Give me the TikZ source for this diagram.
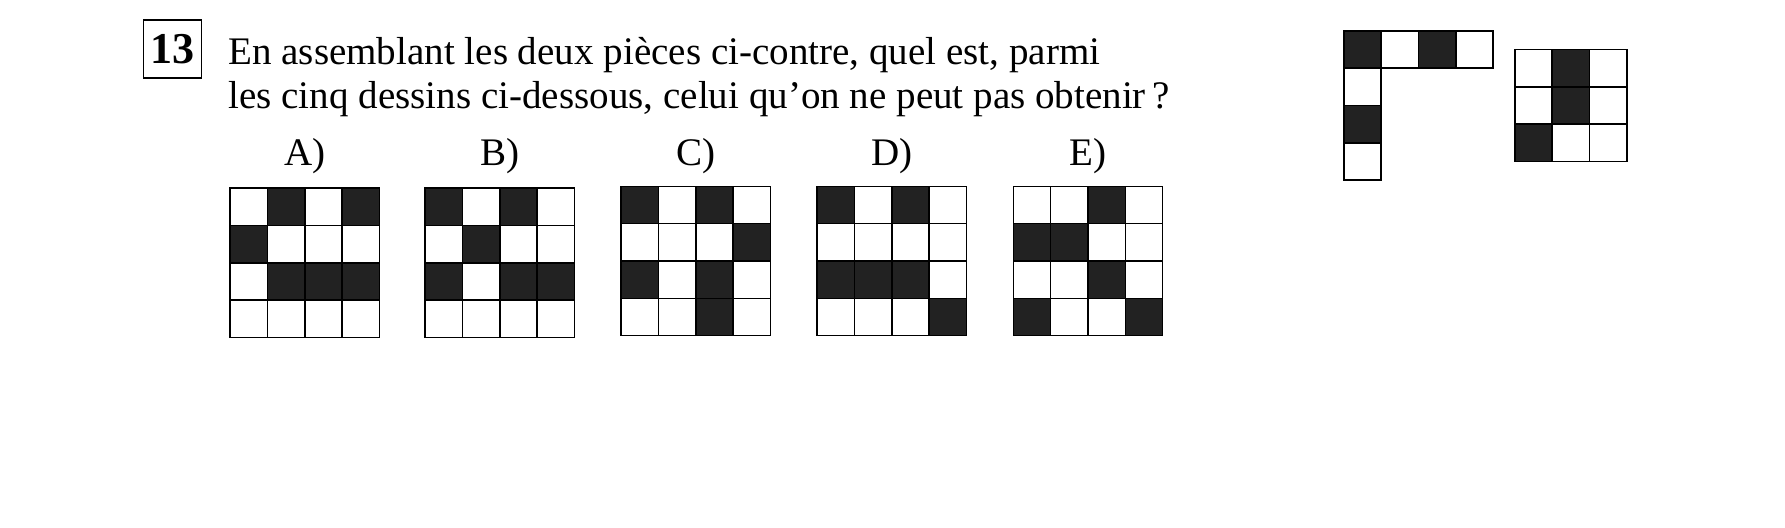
\documentclass[tikz,border=0pt]{standalone}
\usepackage{fontspec}
\setmainfont{Liberation Serif}
\usetikzlibrary{positioning}
\definecolor{ink}{HTML}{222222}
\tikzset{
  every node/.style={inner sep=0pt},
}
% cells of a grid: #1,#2 top left corner, #3 all cells c/r, #4 black cells c/r
\newcommand{\cellgrid}[4]{%
  \foreach \c/\r in {#4} \fill[ink] (#1+\c*32.75,#2+\r*32.75) rectangle ++(32.75,32.75);
  \foreach \c/\r in {#3} \draw[cell] (#1+\c*32.75,#2+\r*32.75) rectangle ++(32.75,32.75);
}
\newcommand{\fourgrid}[3]{%
  \cellgrid{#1}{#2}{0/0,1/0,2/0,3/0,0/1,1/1,2/1,3/1,0/2,1/2,2/2,3/2,0/3,1/3,2/3,3/3}{#3}%
}

\begin{document}
\begin{tikzpicture}[
        x=0.02cm, y=-0.02cm,
        cell/.style={
             draw=black
            , line width=0.8pt
            },
        txt/.style={
             anchor=base west
            , font=\fontsize{19.5}{23}\selectfont
            },
        lbl/.style={
             anchor=base
            , font=\fontsize{19.5}{23}\selectfont
            },
        num/.style={
             draw=black
            , line width=0.7pt
            , minimum width=1.02cm
            , minimum height=1.02cm
            , font=\fontsize{22}{26}\selectfont\bfseries
            }
        ]
        \useasboundingbox (0,0) rectangle (1566,463);

        \node[num] (number) at (151.5,43) {13};
        \node[txt] (line1) at (200,57) {En assemblant les deux pièces ci-contre, quel est, parmi};
        \node[txt] (line2) at (200,95) {les cinq dessins ci-dessous, celui qu’on ne peut pas obtenir\,?};

        \node[lbl] (labA) at (267.5,145) {A)};
        \node[lbl] (labB) at (438.5,145) {B)};
        \node[lbl] (labC) at (610.5,145) {C)};
        \node[lbl] (labD) at (782.5,145) {D)};
        \node[lbl] (labE) at (954.5,145) {E)};

        % the five drawings
        \fourgrid{202}{165}{1/0,3/0,0/1,1/2,2/2,3/2}
        \fourgrid{373}{165}{0/0,2/0,1/1,0/2,2/2,3/2}
        \fourgrid{545}{163.5}{0/0,2/0,3/1,0/2,2/2,2/3}
        \fourgrid{717}{163.5}{0/0,2/0,0/2,1/2,2/2,3/3}
        \fourgrid{889}{163.5}{2/0,0/1,1/1,2/2,0/3,3/3}

        % the two pieces
        \cellgrid{1179}{27}{0/0,1/0,2/0,3/0,0/1,0/2,0/3}{0/0,2/0,0/2}
        \cellgrid{1329}{43.5}{0/0,1/0,2/0,0/1,1/1,2/1,0/2,1/2,2/2}{1/0,1/1,0/2}
    \end{tikzpicture}
\end{document}
